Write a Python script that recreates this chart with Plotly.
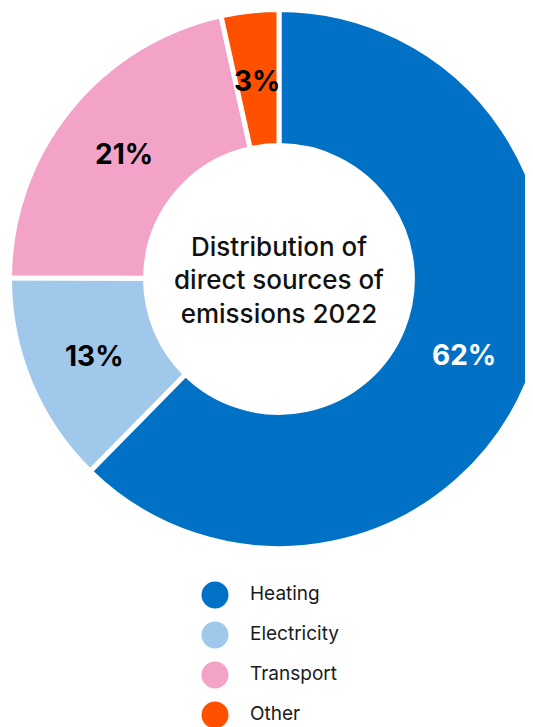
import math
import plotly.graph_objects as go

categories = ["Heating", "Electricity", "Transport", "Other"]
values = [62.3, 12.7, 21.45, 3.45]
colors = ["#0071C5", "#A0C8EA", "#F4A3C8", "#FF5000"]
text_colors = ["white", "black", "black", "black"]
center_title = "Distribution of<br>direct sources of<br>emissions 2022"

W, H = 560, 727
FONT = "Inter"

# pie geometry in figure pixels
cx, cy, R = 271.0, 271.0, 269.5
HOLE = 0.495
LINE_W = 5

fig = go.Figure()

fig.add_trace(go.Pie(
    labels=categories,
    values=values,
    sort=False,
    direction="clockwise",
    rotation=0,
    hole=HOLE,
    marker=dict(colors=colors, line=dict(color="white", width=LINE_W)),
    textinfo="none",
    domain=dict(x=[(cx - R) / W, (cx + R) / W], y=[(H - (cy + R)) / H, (H - (cy - R)) / H]),
    title=dict(text=center_title, position="middle center",
               font=dict(size=26, color="#111111", family=FONT, weight=500)),
    showlegend=False,
    hoverinfo="label+percent",
))

# slice labels at the middle of each ring sector, derived from the values
total = sum(values)
r_lab = (R * HOLE + R) / 2 - 2
cum = 0.0
for v, col in zip(values, text_colors):
    mid = (cum + v / 2) / total * 2 * math.pi
    cum += v
    px = cx + r_lab * math.sin(mid)
    py = cy - r_lab * math.cos(mid)
    fig.add_annotation(
        x=px / W, y=1 - py / H, xref="paper", yref="paper",
        text=f"<b>{v:.0f}%</b>", showarrow=False,
        font=dict(size=28, color=col, family=FONT, weight=800),
        xanchor="center", yanchor="middle",
    )

idx = list(range(len(categories)))
fig.add_trace(go.Scatter(
    x=[0] * len(categories), y=idx,
    mode="markers",
    marker=dict(size=27, color=colors, line=dict(width=0)),
    showlegend=False, hoverinfo="skip",
))
fig.add_trace(go.Scatter(
    x=[1] * len(categories), y=idx,
    mode="text",
    text=categories,
    textposition="middle right",
    textfont=dict(size=19, color="#1a1a1a", family=FONT),
    showlegend=False, hoverinfo="skip",
))

unit = 35.0
x0 = 207.0
fig.update_layout(
    width=W, height=H,
    margin=dict(l=0, r=0, t=0, b=0),
    paper_bgcolor="white", plot_bgcolor="rgba(0,0,0,0)",
    xaxis=dict(visible=False, range=[-x0 / unit, (W - x0) / unit], domain=[0, 1], fixedrange=True),
    yaxis=dict(visible=False, domain=[0, 181 / H], range=[3.5, -1.025], fixedrange=True),
)

fig.write_html("out.html")
